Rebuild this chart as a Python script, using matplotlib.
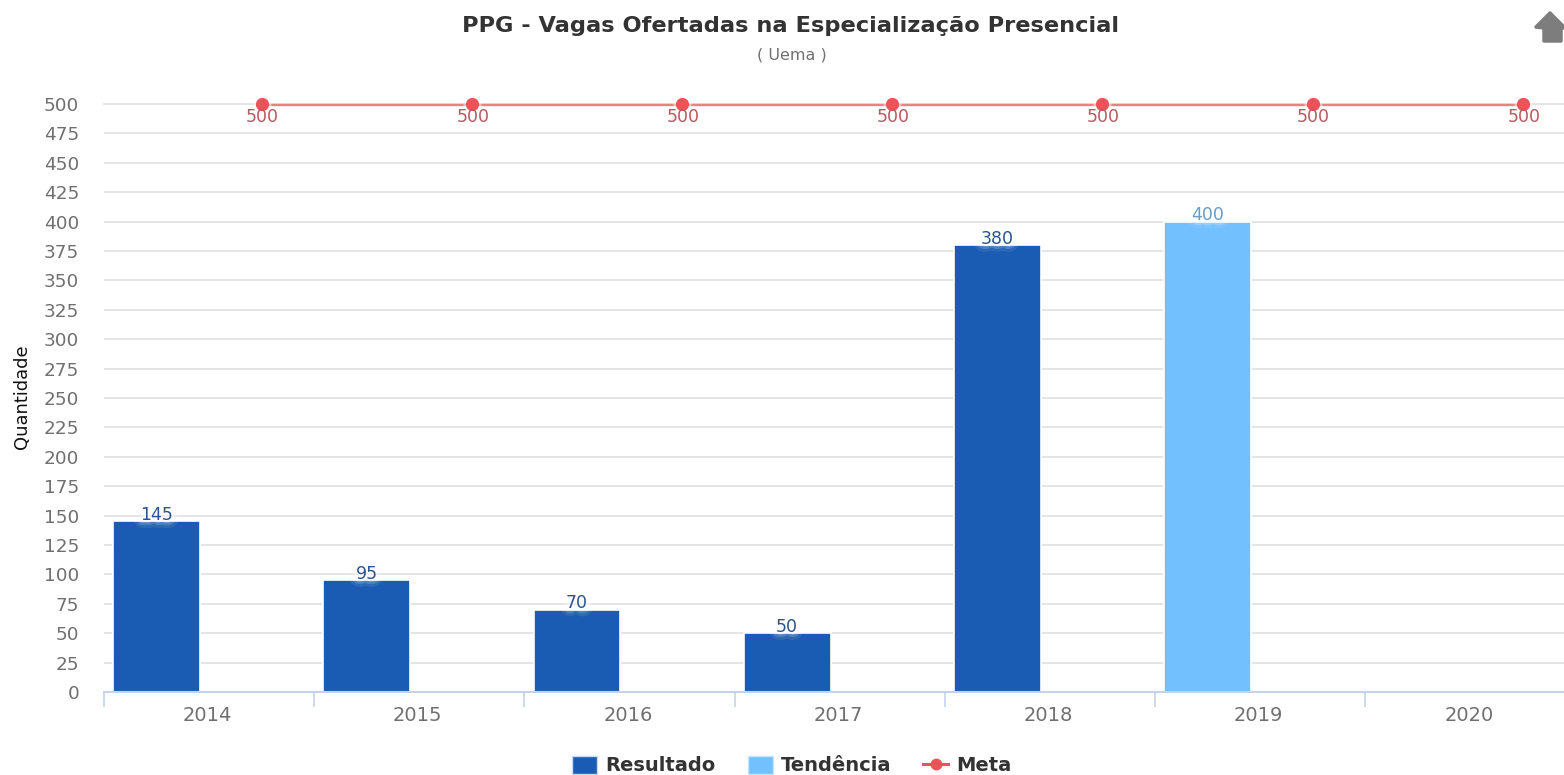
import matplotlib
matplotlib.use("Agg")
import matplotlib.pyplot as plt
import matplotlib.patheffects as pe
from matplotlib.lines import Line2D
from matplotlib.patches import Patch, Polygon
from matplotlib.transforms import ScaledTranslation

W, H = 1564, 775

anos = ["2014", "2015", "2016", "2017", "2018", "2019", "2020"]
resultado = [145, 95, 70, 50, 380, None, None]
tendencia = [None, None, None, None, None, 400, None]
meta = [500, 500, 500, 500, 500, 500, 500]
y_ticks = list(range(0, 525, 25))

AZUL = "#1a5cb3"
CELESTE = "#73c0ff"
VERMELHO = "#f0525a"

plt.rcParams["font.family"] = "DejaVu Sans"

fig = plt.figure(figsize=(W / 100, H / 100), dpi=100)
left, right, top, bottom = 104, 1564, 104, 692
ax = fig.add_axes([left / W, 1 - bottom / H, (right - left) / W, (bottom - top) / H])
cat_w = 210.2
ax.set_xlim(-0.5, -0.5 + (right - left) / cat_w)
ax.set_ylim(0, 500)
ax.set_axisbelow(True)

for s in ["top", "right", "left"]:
    ax.spines[s].set_visible(False)
ax.spines["bottom"].set_color("#c5d3e8")
ax.spines["bottom"].set_linewidth(1.5)

ax.set_yticks(y_ticks)
ax.tick_params(axis="y", length=0, pad=18, labelsize=13.3, labelcolor="#707070")
ax.yaxis.grid(True, color="#e0e0e0", lw=1.2)
ax.yaxis.get_gridlines()[-1].set_clip_on(False)

ax.set_xticks(range(len(anos)))
ax.set_xticklabels(anos)
ax.tick_params(axis="x", which="major", length=0, pad=10, labelsize=14, labelcolor="#707070")
# os rotulos do eixo x ficam um pouco a esquerda do centro da categoria
desloca = ScaledTranslation(-1.5 / 100, 0, fig.dpi_scale_trans)
for lab in ax.get_xticklabels():
    lab.set_transform(lab.get_transform() + desloca)
ax.set_xticks([i - 0.5 for i in range(len(anos))], minor=True)
ax.tick_params(axis="x", which="minor", length=11, width=1.2, color="#c5d3e8")

bar_w = 0.413
off = 0.25
glow = [pe.withStroke(linewidth=11, foreground="white", alpha=0.08),
        pe.withStroke(linewidth=7, foreground="white", alpha=0.16),
        pe.withStroke(linewidth=3.5, foreground="white", alpha=0.3)]


def rotulo(x, v, cor):
    # primeiro o brilho branco, depois o texto limpo por cima
    ax.annotate(str(v), (x, v), xytext=(0, -2), textcoords="offset points", ha="center",
                va="bottom", fontsize=12.5, color="white", path_effects=glow, zorder=4)
    ax.annotate(str(v), (x, v), xytext=(0, -2), textcoords="offset points", ha="center",
                va="bottom", fontsize=12.5, color=cor, zorder=5)


for i, v in enumerate(resultado):
    if v is None:
        continue
    ax.bar(i - off, v, bar_w, color=AZUL, edgecolor="white", linewidth=1.2, zorder=2)
    rotulo(i - off, v, "#2a5490")
for i, v in enumerate(tendencia):
    if v is None:
        continue
    ax.bar(i - off, v, bar_w, color=CELESTE, edgecolor="white", linewidth=1.2, zorder=2)
    rotulo(i - off, v, "#6a9cc4")

xs = [i + off for i in range(len(anos))]
ax.plot(xs, [m - 1 for m in meta], color="#ef7f84", lw=1.7, zorder=3, clip_on=False)
ax.plot(xs, meta, ls="none", marker="o", ms=13, color="white", mec="none", alpha=0.45,
        zorder=3, clip_on=False)
ax.plot(xs, meta, ls="none", marker="o", ms=9.5, color=VERMELHO, mec="none",
        zorder=3, clip_on=False)
for x, m in zip(xs, meta):
    ax.annotate(str(m), (x, m), xytext=(0.7, -3), textcoords="offset points", ha="center",
                va="top", fontsize=12.5, color="#b85a60", zorder=4, annotation_clip=False)

fig.text(13 / W, 1 - 397 / H, "Quantidade", rotation=90, ha="left", va="center",
         fontsize=12.9, color="#111111")
fig.text(790.5 / W, 1 - 26 / H, "PPG - Vagas Ofertadas na Especialização Presencial",
         ha="center", va="center", fontsize=16.2, fontweight="bold", color="#333333")
fig.text(792 / W, 1 - 55 / H, "( Uema )", ha="center", va="center", fontsize=11.5,
         color="#707070")


# icone de voltar no canto
def px(x, y):
    return (x / W, 1 - y / H)


casa = Polygon([px(1536, 27), px(1550, 13), px(1564, 27), px(1564, 28), px(1561, 28), px(1561, 41),
                px(1544, 41), px(1544, 28)], closed=True, transform=fig.transFigure,
               facecolor="#7d7d7d", edgecolor="#7d7d7d", lw=2.5, joinstyle="round")
fig.add_artist(casa)

handles = [
    Patch(facecolor=AZUL, edgecolor="#c8d8ee", label="Resultado"),
    Patch(facecolor=CELESTE, edgecolor="#c8e4ff", label="Tendência"),
    Line2D([0], [0], color=VERMELHO, lw=2.2, marker="o", ms=7.5, label="Meta"),
]
fig.legend(handles=handles, loc="center", bbox_to_anchor=(792 / W, 1 - 765.5 / H), ncol=3,
           frameon=False, prop={"size": 14, "weight": "bold"}, labelcolor="#333333",
           handlelength=1.29, handleheight=1.1, handletextpad=0.41, columnspacing=1.65)

fig.savefig("out.png", dpi=100, facecolor="white")
